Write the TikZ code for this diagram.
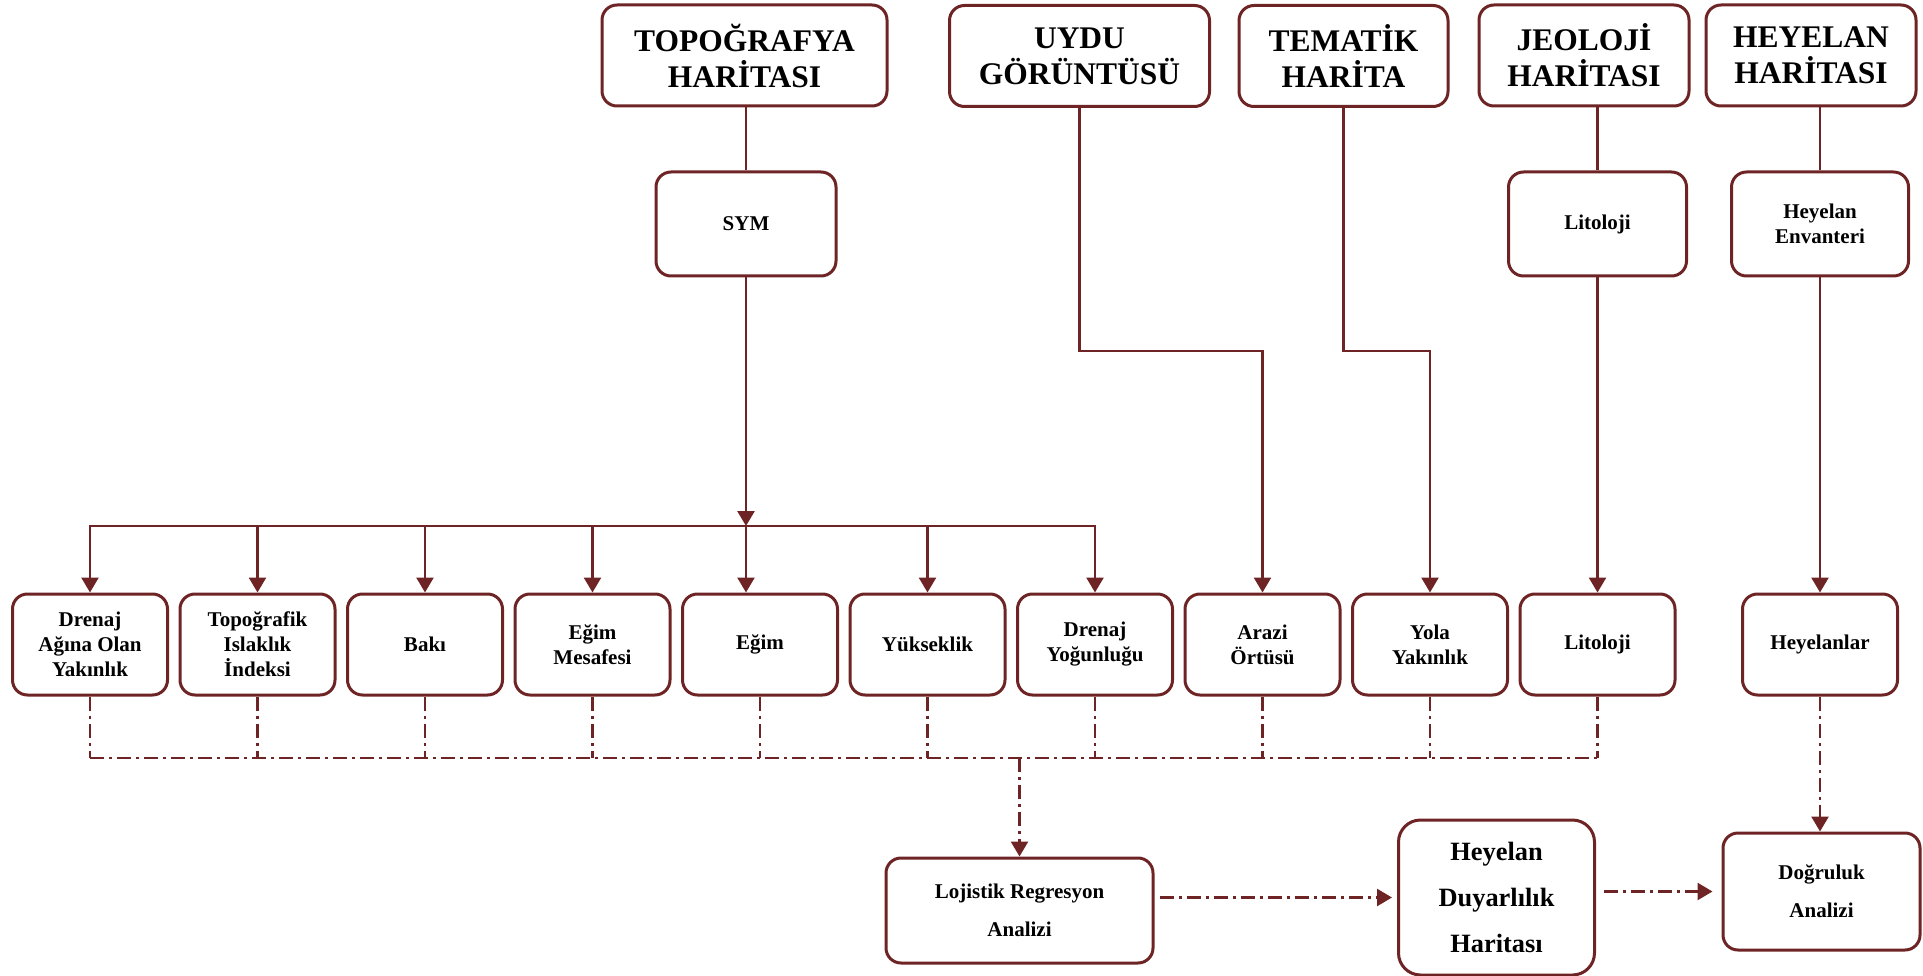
\documentclass[tikz,border=0pt]{standalone}
\usepackage{fontspec}
\setmainfont{Liberation Serif}
\usetikzlibrary{positioning,arrows.meta,calc}
\definecolor{kahve}{RGB}{110,36,36}

\begin{document}
\begin{tikzpicture}[x=1pt, y=-1pt, node distance=167.5pt, on grid,
            box/.style={draw=kahve, line width=3pt, rounded corners=15pt,
              fill=white, align=center, inner sep=0pt,
              font=\bfseries\fontsize{21}{25}\selectfont},
            title/.style={box, minimum height=101pt,
              font=\bfseries\fontsize{31.5}{36}\selectfont},
            factor/.style={box, minimum width=155pt, minimum height=101pt},
            link/.style={draw=kahve, line width=2.6pt},
            arr/.style={link, -{Triangle[length=15pt,width=17pt]}},
            dlink/.style={link, dash pattern=on 14pt off 5pt on 3pt off 5pt},
            darr/.style={arr, dash pattern=on 14pt off 5pt on 3pt off 5pt}
        ]
          \useasboundingbox (0,0) rectangle (1923,976);
          % kaynak veriler
          \node[title, minimum width=285pt] (topo) at (744.5,55.5) {TOPOĞRAFYA\\HARİTASI};
          \node[title, minimum width=260pt] (uydu) at (1079.5,56) {UYDU\\GÖRÜNTÜSÜ};
          \node[title, minimum width=209pt] (tema) at (1343.5,56) {TEMATİK\\HARİTA};
          \node[title, minimum width=210pt] (jeo)  at (1584,55.5) {JEOLOJİ\\HARİTASI};
          \node[title, minimum width=210pt] (hey)  at (1811,55.5) {HEYELAN\\HARİTASI};
          % parametreler
          \node[factor] (drenaj) at (90,644.5) {Drenaj\\Ağına Olan\\Yakınlık};
          \node[factor] (tpi)   [right=of drenaj] {Topoğrafik\\Islaklık\\İndeksi};
          \node[factor] (baki)  [right=of tpi]    {Bakı};
          \node[factor] (egmes) [right=of baki]   {Eğim\\Mesafesi};
          \node[factor] (egim)  [right=of egmes]  {Eğim};
          \node[factor] (yuk)   [right=of egim]   {Yükseklik};
          \node[factor] (dyog)  [right=of yuk]    {Drenaj\\Yoğunluğu};
          \node[factor] (arazi) [right=of dyog]   {Arazi\\Örtüsü};
          \node[factor] (yola)  [right=of arazi]  {Yola\\Yakınlık};
          \node[factor] (lit)   [right=of yola]   {Litoloji};
          \node[factor] (heylr) [right=222.5pt of lit] {Heyelanlar};
          % ara katmanlar
          \node[box, minimum width=180pt, minimum height=104pt] (sym) at (746,224) {SYM};
          \node[box, minimum width=178pt, minimum height=104pt] (lito) [above=420.5pt of lit] {Litoloji};
          \node[box, minimum width=177pt, minimum height=104pt] (env) [above=420.5pt of heylr] {Heyelan\\Envanteri};
          % analiz
          \node[box, minimum width=267pt, minimum height=105pt,
                font=\bfseries\fontsize{21}{38}\selectfont] (lr) at (1019.5,910.5) {Lojistik Regresyon\\Analizi};
          \node[box, minimum width=196pt, minimum height=155pt, rounded corners=22pt,
                font=\bfseries\fontsize{26.4}{46}\selectfont] (hdh) at (1496.5,897.5) {Heyelan\\Duyarlılık\\Haritası};
          \node[box, minimum width=197pt, minimum height=117pt,
                font=\bfseries\fontsize{21}{38}\selectfont] (dog) at (1821.5,891.5) {Doğruluk\\Analizi};

          \coordinate (bus) at (746,526);
          \coordinate (elbow) at (0,351);
          \coordinate (dbus) at (0,758);

          \draw[link] (sym |- topo.south) -- (sym);
          \draw[link] (lito |- jeo.south) -- (lito);
          \draw[link] (env |- hey.south) -- (env);
          \draw[arr] (sym) -- (bus);
          \draw[link, line cap=rect] (drenaj |- bus) -- (dyog |- bus);
          \foreach \n in {drenaj,tpi,baki,egmes,yuk,dyog}
            \draw[arr] (\n |- bus) -- (\n);
          \draw[arr] (bus) -- (bus |- egim.north);
          \draw[arr] (uydu) -- (uydu |- elbow) -| (arazi);
          \draw[arr] (tema) -- (tema |- elbow) -| (yola);
          \draw[arr] (lito) -- (lit);
          \draw[arr] (env) -- (heylr);

          \foreach \n in {drenaj,tpi,baki,egmes,egim,yuk,dyog,arazi,yola,lit}
            \draw[dlink] (\n) -- (\n |- dbus);
          \draw[dlink] (drenaj |- dbus) -- (lit |- dbus);
          \draw[darr] (lr |- dbus) -- (lr);
          \draw[darr, shorten <=5pt, shorten >=5pt] (lr.east |- hdh) -- (hdh);
          \draw[darr, shorten <=8pt, shorten >=9pt] (hdh.east |- dog) -- (dog);
          \draw[darr] (heylr) -- (heylr |- dog.north);
        \end{tikzpicture}
\end{document}
